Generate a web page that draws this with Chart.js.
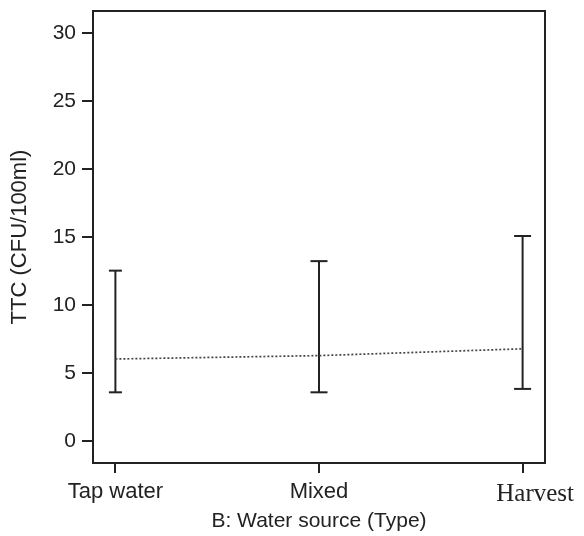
<!DOCTYPE html>
<html>
<head>
<meta charset="utf-8">
<script src="https://cdn.jsdelivr.net/npm/chart.js@4"></script>
<style>
  html, body { margin: 0; padding: 0; background: #fff; }
  #wrap { width: 584px; height: 536px; }
</style>
</head>
<body>
<div id="wrap"><canvas id="ttcChart" width="584" height="536"></canvas></div>
<script>
// water source groups
const sources = ["Tap water", "Mixed", "Harvest"];
const meanTTC = [6.05, 6.3, 6.8];
const lowTTC = [3.6, 3.6, 3.85];
const highTTC = [12.55, 13.25, 15.1];
const yTicks = [0, 5, 10, 15, 20, 25, 30];

const ink = "#222222";
const sans = "'Liberation Sans', Arial, sans-serif";
const serif = "'Liberation Serif', 'Times New Roman', serif";

// one little dataset per error bar, caps come from pointStyle 'line'
const barSets = sources.map((s, i) => ({
  type: "line",
  label: s,
  data: [{ x: i, y: lowTTC[i] }, { x: i, y: highTTC[i] }],
  borderColor: ink,
  borderWidth: 2,
  pointStyle: "line",
  pointRadius: i === 0 ? 6.5 : 8.5,
  pointBorderWidth: 2,
  pointBorderColor: ink,
  pointHoverRadius: 0,
  fill: false
}));

const meanSet = {
  type: "line",
  label: "mean",
  data: meanTTC.map((v, i) => ({ x: i, y: v })),
  borderColor: "#444444",
  borderWidth: 1.7,
  borderDash: [2, 2],
  pointRadius: 0,
  tension: 0,
  fill: false
};

const ctx = document.getElementById("ttcChart").getContext("2d");
new Chart(ctx, {
  type: "line",
  data: { datasets: [meanSet].concat(barSets) },
  options: {
    responsive: false,
    animation: false,
    events: [],
    layout: { padding: { left: 0, right: 39, top: 11, bottom: 0 } },
    plugins: { legend: { display: false }, tooltip: { enabled: false } },
    scales: {
      x: {
        type: "linear",
        min: -0.11,
        max: 2.11,
        afterFit: (scale) => {
          scale.height = 73;
          scale.paddingLeft = 0;
          scale.paddingRight = 0;
        },
        afterBuildTicks: (scale) => {
          scale.ticks = sources.map((s, i) => ({ value: i }));
        },
        border: { display: true, color: ink, width: 2 },
        grid: { drawOnChartArea: false, drawTicks: true, tickLength: 10, color: ink, lineWidth: 2 },
        ticks: {
          autoSkip: false,
          maxRotation: 0,
          padding: 6,
          color: ink,
          // the Harvest label sits a bit right of its tick in the original
          callback: (v) => v === 2 ? "    " + sources[v] : sources[v],
          font: (c) => (c.tick && c.tick.value === 2)
            ? { family: serif, size: 25 }
            : { family: sans, size: 22 }
        },
        title: {
          display: true,
          text: "B: Water source (Type)",
          color: ink,
          padding: { top: 0, bottom: 2 },
          font: { family: sans, size: 21 }
        }
      },
      y: {
        type: "linear",
        min: -1.6,
        max: 31.65,
        afterFit: (scale) => {
          scale.width = 93;
          scale.paddingTop = 0;
          scale.paddingBottom = 0;
        },
        afterBuildTicks: (scale) => {
          scale.ticks = yTicks.map(v => ({ value: v }));
        },
        border: { display: true, color: ink, width: 2 },
        grid: { drawOnChartArea: false, drawTicks: true, tickLength: 11, color: ink, lineWidth: 2 },
        ticks: {
          padding: 6,
          color: ink,
          font: { family: sans, size: 21 }
        },
        title: {
          display: true,
          text: "TTC (CFU/100ml)",
          color: ink,
          padding: { top: 7, bottom: 0 },
          font: { family: sans, size: 22 }
        }
      }
    }
  },
  plugins: [{
    // close the box on top and right like the original
    id: "frame",
    afterDraw(chart) {
      const a = chart.chartArea;
      const c = chart.ctx;
      c.save();
      c.strokeStyle = ink;
      c.lineWidth = 2;
      c.beginPath();
      c.moveTo(a.left - 1, a.top);
      c.lineTo(a.right, a.top);
      c.lineTo(a.right, a.bottom + 1);
      c.stroke();
      c.restore();
    }
  }]
});
</script>
</body>
</html>
